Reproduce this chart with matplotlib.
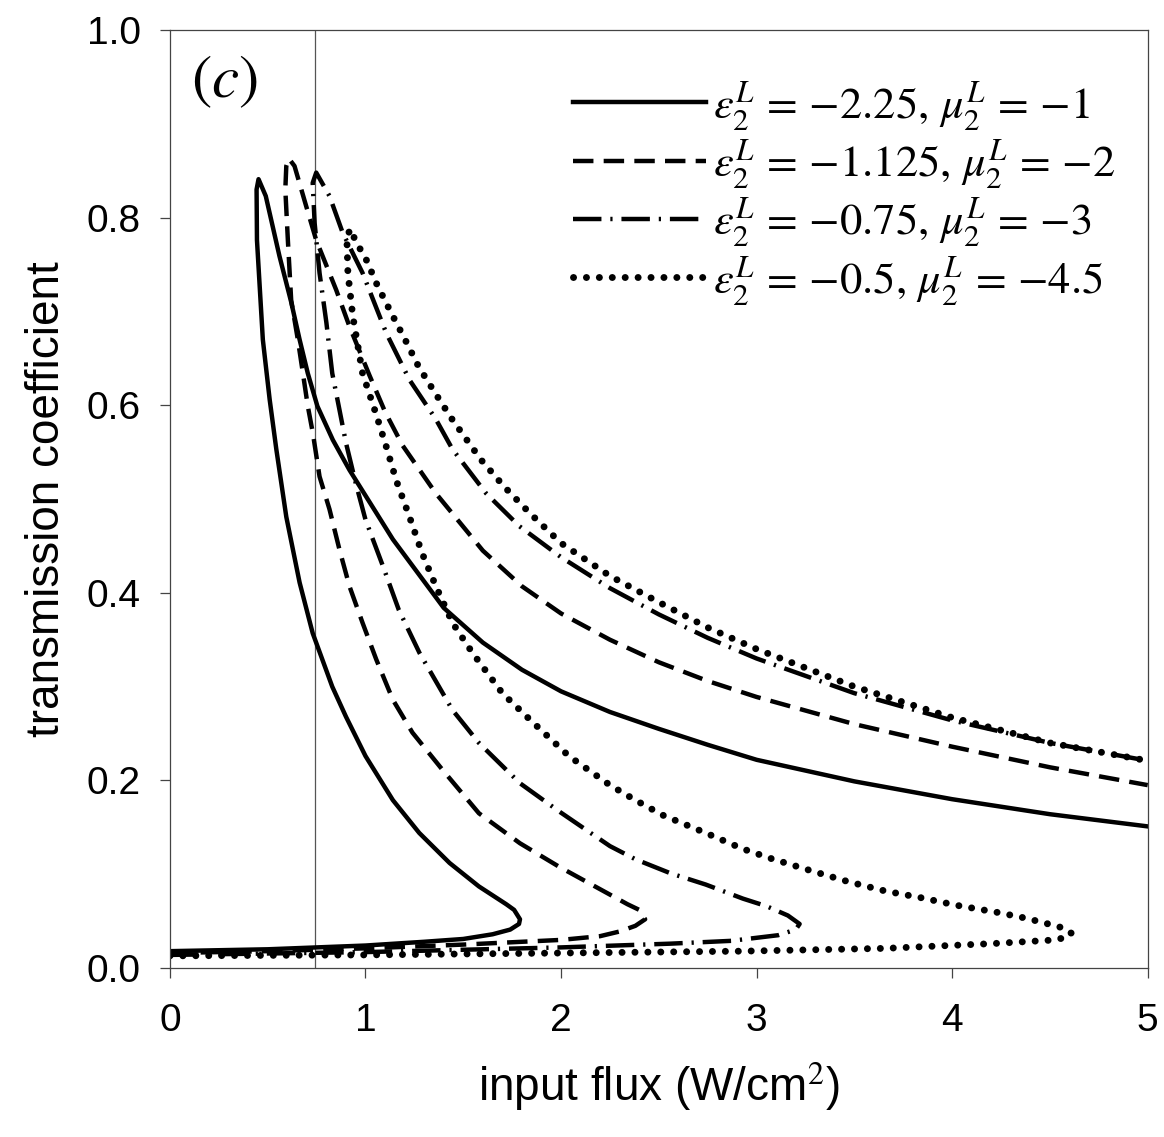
import numpy as np
import matplotlib
matplotlib.use("Agg")
import matplotlib.pyplot as plt

plt.rcParams['font.family'] = ['Liberation Sans', 'DejaVu Sans']
plt.rcParams['mathtext.fontset'] = 'stix'

# curves traced as lower branch -> turning point -> middle branch -> peak -> upper branch
x_eps225 = [0, 0.5, 1.0, 1.3, 1.5, 1.65, 1.74, 1.785, 1.79, 1.76, 1.72, 1.58, 1.43, 1.275, 1.14, 1.0,
            0.90, 0.83, 0.73, 0.663, 0.595, 0.544, 0.51, 0.475, 0.445, 0.443, 0.453,
            0.49, 0.56, 0.62, 0.663, 0.705, 0.754, 0.833, 0.918, 1.14, 1.4, 1.6, 1.8, 2.0, 2.25, 2.5,
            2.75, 3.0, 3.5, 4.0, 4.5, 5.0]
y_eps225 = [0.018, 0.020, 0.024, 0.028, 0.031, 0.036, 0.041, 0.047, 0.052, 0.062, 0.068, 0.087, 0.112,
            0.144, 0.179, 0.226, 0.268, 0.300, 0.357, 0.411, 0.481, 0.553, 0.606, 0.670, 0.776, 0.830,
            0.841, 0.823, 0.759, 0.710, 0.670, 0.634, 0.599, 0.563, 0.531, 0.457, 0.384, 0.347, 0.318,
            0.295, 0.273, 0.255, 0.238, 0.222, 0.199, 0.180, 0.164, 0.151]

x_eps1125 = [0, 0.5, 1.0, 1.5, 2.0, 2.2, 2.30, 2.38, 2.43, 2.40, 2.34, 2.2, 1.99, 1.79, 1.58, 1.395,
             1.24, 1.14, 1.055, 0.985, 0.918, 0.867, 0.816, 0.765, 0.731, 0.705, 0.68, 0.654, 0.62,
             0.603, 0.59, 0.595, 0.608,
             0.637, 0.697, 0.748, 0.85, 0.918, 1.02, 1.10, 1.19, 1.36, 1.6, 1.8, 2.0, 2.25, 2.5, 2.75,
             3.0, 3.5, 4.0, 4.5, 5.0]
y_eps1125 = [0.016, 0.018, 0.021, 0.025, 0.030, 0.034, 0.039, 0.045, 0.052, 0.062, 0.068, 0.084, 0.108,
             0.133, 0.165, 0.211, 0.251, 0.286, 0.329, 0.368, 0.407, 0.446, 0.489, 0.524, 0.570, 0.599,
             0.634, 0.670, 0.712, 0.776, 0.830, 0.855, 0.863,
             0.855, 0.812, 0.776, 0.723, 0.684, 0.632, 0.593, 0.557, 0.506, 0.445, 0.407, 0.378, 0.350,
             0.326, 0.306, 0.289, 0.260, 0.236, 0.214, 0.195]

x_eps075 = [0, 1.0, 2.0, 2.56, 2.87, 3.11, 3.20, 3.22, 3.16, 3.05, 2.93, 2.74, 2.56, 2.38, 2.25, 1.99,
            1.79, 1.58, 1.445, 1.276, 1.17, 1.09, 1.0, 0.95, 0.90, 0.867, 0.83, 0.80, 0.765, 0.74,
            0.73, 0.748,
            0.816, 0.883, 0.985, 1.106, 1.225, 1.36, 1.445, 1.617, 1.787, 2.0, 2.25, 2.5, 2.75, 3.0,
            3.5, 4.0, 4.5, 5.0]
y_eps075 = [0.014, 0.017, 0.022, 0.026, 0.029, 0.035, 0.041, 0.047, 0.056, 0.066, 0.074, 0.089, 0.101,
            0.116, 0.130, 0.167, 0.197, 0.240, 0.275, 0.336, 0.382, 0.428, 0.478, 0.517, 0.560, 0.595,
            0.634, 0.688, 0.741, 0.794, 0.837, 0.848,
            0.823, 0.784, 0.741, 0.677, 0.627, 0.585, 0.553, 0.506, 0.471, 0.438, 0.405, 0.377, 0.352,
            0.330, 0.293, 0.264, 0.240, 0.221]

x_eps05 = [0, 1.0, 2.0, 2.93, 3.66, 4.2, 4.53, 4.60, 4.61, 4.58, 4.51, 4.38, 4.24, 4.02, 3.84, 3.66,
           3.47, 3.29, 3.07, 2.93, 2.74, 2.52, 2.38, 2.25, 2.04, 1.84, 1.70, 1.547, 1.445, 1.36, 1.29,
           1.225, 1.157, 1.106, 1.055, 0.985, 0.935, 0.91, 0.905, 0.92,
           0.96, 1.0, 1.06, 1.13, 1.2, 1.272, 1.356, 1.443, 1.59, 1.71, 1.84, 2.0, 2.25, 2.5, 2.75,
           3.0, 3.5, 4.0, 4.5, 5.0]
y_eps05 = [0.013, 0.014, 0.016, 0.018, 0.021, 0.026, 0.030, 0.034, 0.037, 0.042, 0.046, 0.053, 0.059,
           0.067, 0.075, 0.082, 0.092, 0.103, 0.117, 0.127, 0.144, 0.163, 0.179, 0.195, 0.226, 0.265,
           0.293, 0.336, 0.368, 0.407, 0.442, 0.481, 0.520, 0.556, 0.590, 0.634, 0.695, 0.741, 0.776,
           0.788,
           0.771, 0.757, 0.728, 0.699, 0.671, 0.641, 0.613, 0.585, 0.542, 0.513, 0.485, 0.453, 0.418,
           0.390, 0.363, 0.340, 0.300, 0.267, 0.240, 0.221]

labels = [r'$\varepsilon_2^L\, =\,{-}2.25,\,\mu_2^L\, =\,{-}1$',
          r'$\varepsilon_2^L\, =\,{-}1.125,\,\mu_2^L\, =\,{-}2$',
          r'$\varepsilon_2^L\, =\,{-}0.75,\,\mu_2^L\, =\,{-}3$',
          r'$\varepsilon_2^L\, =\,{-}0.5,\,\mu_2^L\, =\,{-}4.5$']
x_marker = 0.74

fig = plt.figure(figsize=(11.64, 11.37), dpi=100)
ax = fig.add_axes([0.146, 0.1486, 0.84, 0.825])

ax.axvline(x_marker, color='#555555', lw=0.9, zorder=1)

ax.plot(x_eps225, y_eps225, color='black', lw=3.2, ls='-', label=labels[0],
        solid_joinstyle='round')
ax.plot(x_eps1125, y_eps1125, color='black', lw=3.2, ls=(0, (4.6, 2.3)), label=labels[1])
ax.plot(x_eps075, y_eps075, color='black', lw=3.2, ls=(0, (6.4, 2.0, 0.5, 2.0)), label=labels[2])
ax.plot(x_eps05, y_eps05, color='black', lw=5.0, ls=(0, (0.01, 1.85)),
        dash_capstyle='round', label=labels[3])

ax.set_xlim(0, 5)
ax.set_ylim(0, 1.0)
ax.set_xticks([0, 1, 2, 3, 4, 5])
ax.set_yticks([0.0, 0.2, 0.4, 0.6, 0.8, 1.0])
ax.set_yticklabels(['0.0', '0.2', '0.4', '0.6', '0.8', '1.0'])
ax.tick_params(axis='both', direction='out', length=7, width=0.9, color='#444444', labelsize=28)
ax.tick_params(axis='x', pad=18)
ax.tick_params(axis='y', pad=14)
for s in ax.spines.values():
    s.set_color('#444444')
    s.set_linewidth(0.9)

ax.set_xlabel(r'input flux (W/cm$^{2}$)', fontsize=33, labelpad=16)
ax.set_ylabel('transmission coefficient', fontsize=33, labelpad=13)

ax.text(0.022, 0.975, r'$(c)$', transform=ax.transAxes, fontsize=44, va='top', ha='left')

leg = ax.legend(loc='upper right', bbox_to_anchor=(0.985, 0.967), frameon=False, fontsize=32,
                handlelength=3.0, handletextpad=0.15, labelspacing=0.12, borderaxespad=0.0)

fig.savefig('out.png', dpi=100)
